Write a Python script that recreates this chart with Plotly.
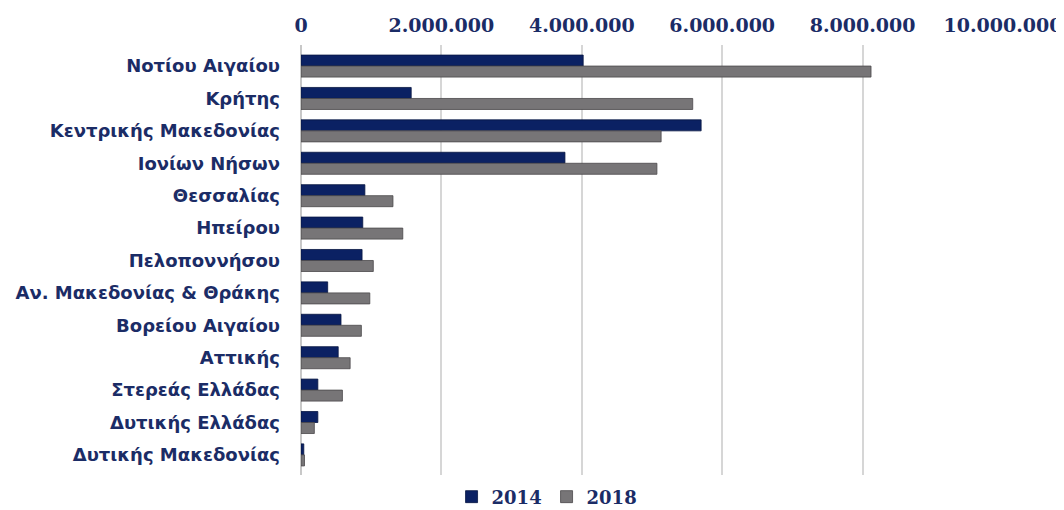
import plotly.graph_objects as go

regions = ["Νοτίου Αιγαίου", "Κρήτης", "Κεντρικής Μακεδονίας", "Ιονίων Νήσων",
           "Θεσσαλίας", "Ηπείρου", "Πελοποννήσου", "Αν. Μακεδονίας & Θράκης",
           "Βορείου Αιγαίου", "Αττικής", "Στερεάς Ελλάδας", "Δυτικής Ελλάδας",
           "Δυτικής Μακεδονίας"]
values_2014 = [4020000, 1570000, 5700000, 3760000, 910000, 880000, 870000,
               380000, 570000, 530000, 240000, 240000, 40000]
values_2018 = [8120000, 5580000, 5130000, 5070000, 1310000, 1450000, 1030000,
               980000, 860000, 700000, 590000, 190000, 50000]
tick_vals = [0, 2000000, 4000000, 6000000, 8000000, 10000000]

navy = "#0B2163"
grey = "#777577"
text_col = "#1B2C66"

fig = go.Figure()
fig.add_trace(go.Bar(y=regions, x=values_2014, name="2014", orientation="h",
                     marker=dict(color=navy, line=dict(color="#081743", width=0.8))))
fig.add_trace(go.Bar(y=regions, x=values_2018, name="2018", orientation="h",
                     marker=dict(color=grey, line=dict(color="#4a484a", width=0.8))))

fig.update_layout(
    width=1056, height=502,
    barmode="group", bargap=0.32, bargroupgap=0,
    plot_bgcolor="white", paper_bgcolor="white",
    separators=",.",
    margin=dict(l=293, r=61, t=37, b=35),
    legend=dict(orientation="h", xref="container", yref="container",
                x=0.51, xanchor="center", y=0.026, yanchor="middle",
                font=dict(family="DejaVu Serif", size=18, color=text_col, weight="bold"),
                itemwidth=30, entrywidth=50, entrywidthmode="pixels",
                bgcolor="rgba(0,0,0,0)", traceorder="normal"),
    xaxis=dict(side="top", range=[0, 10000000], tickvals=tick_vals, tickformat=",d",
               showgrid=True, gridcolor="#D6D6D6", gridwidth=2,
               zeroline=True, zerolinecolor="#C8C8C8", zerolinewidth=2,
               tickfont=dict(family="DejaVu Serif", size=19, color=text_col, weight="bold"),
               ticks="", ticklabelstandoff=8, ticklabeloverflow="allow", automargin=False),
    yaxis=dict(range=[12.62, -0.65], showgrid=False, ticks="", automargin=False,
               ticklabelstandoff=20,
               tickfont=dict(family="DejaVu Sans", size=18, color=text_col, weight="bold")),
)

fig.write_html("out.html")
